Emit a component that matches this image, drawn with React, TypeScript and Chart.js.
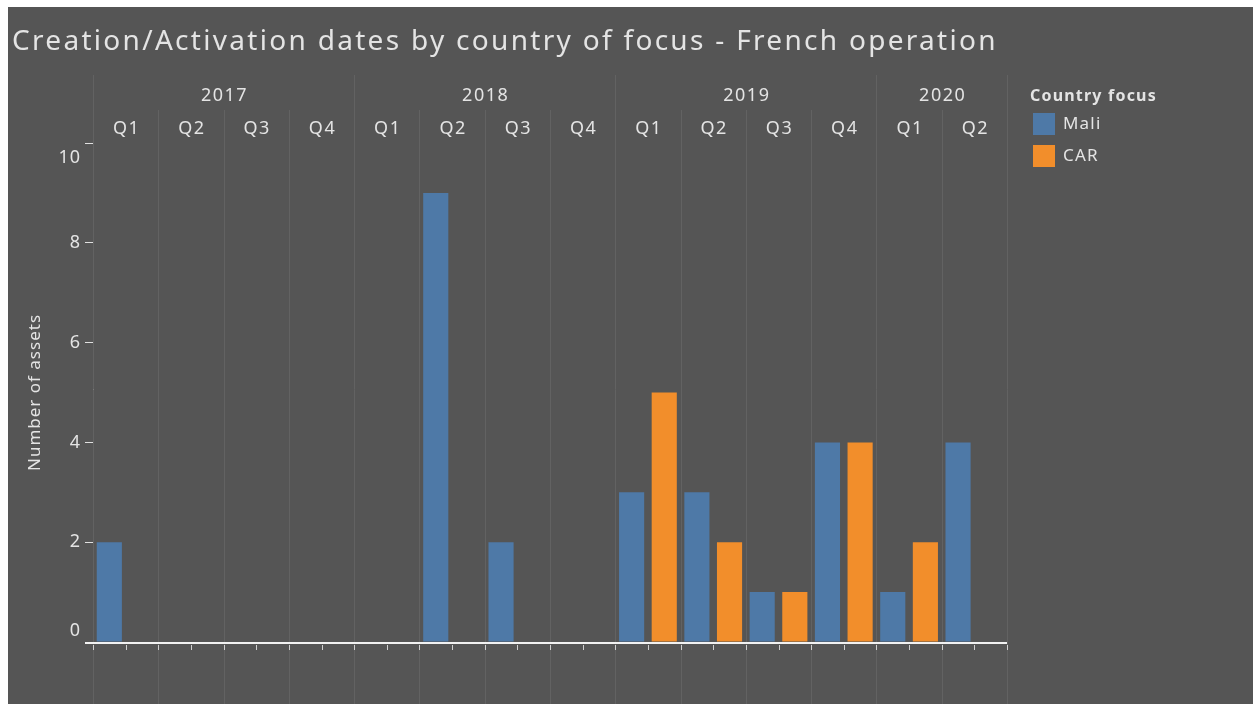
import React, { useEffect, useRef } from "react";
import { Chart, registerables } from "chart.js";

Chart.register(...registerables);

const TITLE = "Creation/Activation dates by country of focus - French operation";
const YEARS = ["2017", "2018", "2019", "2020"];
const QUARTER_YEARS = ["2017", "2017", "2017", "2017", "2018", "2018", "2018", "2018", "2019", "2019", "2019", "2019", "2020", "2020"];
const QUARTERS = ["Q1", "Q2", "Q3", "Q4", "Q1", "Q2", "Q3", "Q4", "Q1", "Q2", "Q3", "Q4", "Q1", "Q2"];
const MALI = [2, null, null, null, null, 9, 2, null, 3, 3, 1, 4, 1, 4];
const CAR = [null, null, null, null, null, null, null, null, 5, 2, 1, 4, 2, null];
const Y_TICKS = [0, 2, 4, 6, 8, 10];
const Y_TITLE = "Number of assets";
const LEGEND_TITLE = "Country focus";

const BG = "#555555";
const TEXT = "#e4e4e4";
const GRID = "#626262";
const FONT = "'Noto Sans', 'Open Sans', sans-serif";

function setSpacing(ctx: any, px: number) {
  if ("letterSpacing" in ctx) ctx.letterSpacing = `${px}px`;
}

const headerPlugin = {
  id: "tableauHeader",
  beforeDatasetsDraw(chart: any) {
    const ctx = chart.ctx;
    const x = chart.scales.x;
    const n = QUARTERS.length;
    const half = (x.getPixelForValue(1) - x.getPixelForValue(0)) / 2;
    ctx.save();
    for (let i = 0; i <= n; i++) {
      const px = Math.round(i < n ? x.getPixelForValue(i) - half : x.getPixelForValue(n - 1) + half) + 0.5;
      const yearBoundary = i === 0 || i === n || QUARTER_YEARS[i] !== QUARTER_YEARS[i - 1];
      ctx.strokeStyle = GRID;
      ctx.lineWidth = 1;
      ctx.beginPath();
      ctx.moveTo(px, yearBoundary ? 68 : 103);
      ctx.lineTo(px, chart.height);
      ctx.stroke();
    }
    ctx.restore();
  },
  afterDraw(chart: any) {
    const ctx = chart.ctx;
    const x = chart.scales.x;
    const y = chart.scales.y;
    const area = chart.chartArea;
    const n = QUARTERS.length;
    const half = (x.getPixelForValue(1) - x.getPixelForValue(0)) / 2;
    ctx.save();
    ctx.fillStyle = TEXT;
    // title
    ctx.font = `28px ${FONT}`;
    setSpacing(ctx, 2.3);
    ctx.textAlign = "left";
    ctx.textBaseline = "middle";
    ctx.fillText(TITLE, 4, 35);
    // year labels
    ctx.font = `18px ${FONT}`;
    setSpacing(ctx, 1.5);
    ctx.textAlign = "center";
    YEARS.forEach((yr) => {
      const idx = QUARTER_YEARS.map((q, i) => (q === yr ? i : -1)).filter((i) => i >= 0);
      const l = x.getPixelForValue(idx[0]) - half;
      const r = x.getPixelForValue(idx[idx.length - 1]) + half;
      ctx.fillText(yr, (l + r) / 2 + 1, 89);
    });
    // quarter labels
    QUARTERS.forEach((q, i) => {
      ctx.fillText(q, x.getPixelForValue(i) + 1, 122);
    });
    // y tick labels
    ctx.textAlign = "right";
    setSpacing(ctx, 1);
    Y_TICKS.forEach((v, i) => {
      let py = y.getPixelForValue(v);
      if (i === Y_TICKS.length - 1) py += 15;
      if (i === 0) py -= 11;
      ctx.fillText(String(v), area.left - 12, py);
    });
    // y title
    ctx.save();
    ctx.translate(27, (area.top + area.bottom) / 2);
    ctx.rotate(-Math.PI / 2);
    ctx.textAlign = "center";
    ctx.font = `17px ${FONT}`;
    setSpacing(ctx, 1);
    ctx.fillText(Y_TITLE, 0, 0);
    ctx.restore();
    // x axis line
    ctx.strokeStyle = "#f2f2f2";
    ctx.lineWidth = 2;
    ctx.beginPath();
    ctx.moveTo(area.left - 8, area.bottom + 1);
    ctx.lineTo(area.right, area.bottom + 1);
    ctx.stroke();
    // small bottom marks
    ctx.strokeStyle = "#cfcfcf";
    ctx.lineWidth = 1;
    for (let i = 0; i < n; i++) {
      const c = Math.round(x.getPixelForValue(i)) + 0.5;
      const b = Math.round(x.getPixelForValue(i) - half) + 0.5;
      ctx.beginPath();
      ctx.moveTo(c, area.bottom + 3);
      ctx.lineTo(c, area.bottom + 8);
      ctx.moveTo(b, area.bottom + 3);
      ctx.lineTo(b, area.bottom + 8);
      ctx.stroke();
    }
    const endB = Math.round(x.getPixelForValue(n - 1) + half) + 0.5;
    ctx.beginPath();
    ctx.moveTo(endB, area.bottom + 3);
    ctx.lineTo(endB, area.bottom + 8);
    ctx.stroke();
    // legend
    ctx.textAlign = "left";
    ctx.font = `bold 16px ${FONT}`;
    setSpacing(ctx, 1.2);
    ctx.fillText(LEGEND_TITLE, 1022, 89);
    ctx.font = `17px ${FONT}`;
    setSpacing(ctx, 1.2);
    chart.data.datasets.forEach((ds: any, i: number) => {
      const top = 106 + i * 32;
      ctx.fillStyle = ds.backgroundColor;
      ctx.fillRect(1025, top, 22, 22);
      ctx.fillStyle = TEXT;
      ctx.fillText(ds.label, 1055, top + 11);
    });
    ctx.restore();
  },
};

export default function App() {
  const ref = useRef<HTMLCanvasElement | null>(null);
  useEffect(() => {
    if (!ref.current) return;
    const chart = new Chart(ref.current, {
      type: "bar",
      data: {
        labels: QUARTERS.map((q, i) => `${QUARTER_YEARS[i]} ${q}`),
        datasets: [
          { label: "Mali", data: MALI, backgroundColor: "#4e79a7", borderWidth: 0 },
          { label: "CAR", data: CAR, backgroundColor: "#f28e2b", borderWidth: 0 },
        ],
      },
      options: {
        responsive: false,
        animation: false,
        events: [],
        layout: { padding: { top: 136, right: 246, bottom: 0, left: 0 } },
        datasets: { bar: { categoryPercentage: 1, barPercentage: 0.77 } },
        plugins: { legend: { display: false }, tooltip: { enabled: false }, title: { display: false } },
        scales: {
          x: {
            ticks: { display: false },
            grid: { display: false },
            border: { display: false },
            afterFit: (s: any) => {
              s.height = 62;
            },
          },
          y: {
            min: 0,
            max: 10,
            afterBuildTicks: (s: any) => {
              s.ticks = Y_TICKS.map((v) => ({ value: v }));
            },
            ticks: { display: false },
            grid: { drawOnChartArea: false, drawTicks: true, tickLength: 8, color: "#e0e0e0", tickColor: "#e0e0e0" },
            border: { display: true, color: "#bdbdbd", width: 1 },
            afterFit: (s: any) => {
              s.width = 85;
            },
          },
        },
      },
      plugins: [headerPlugin],
    });
    return () => chart.destroy();
  }, []);
  return (
    <div style={{ position: "fixed", left: 8, top: 7, right: 0, bottom: 0, background: BG, overflow: "hidden" }}>
      <canvas ref={ref} width={1245} height={697} style={{ display: "block" }} />
    </div>
  );
}
